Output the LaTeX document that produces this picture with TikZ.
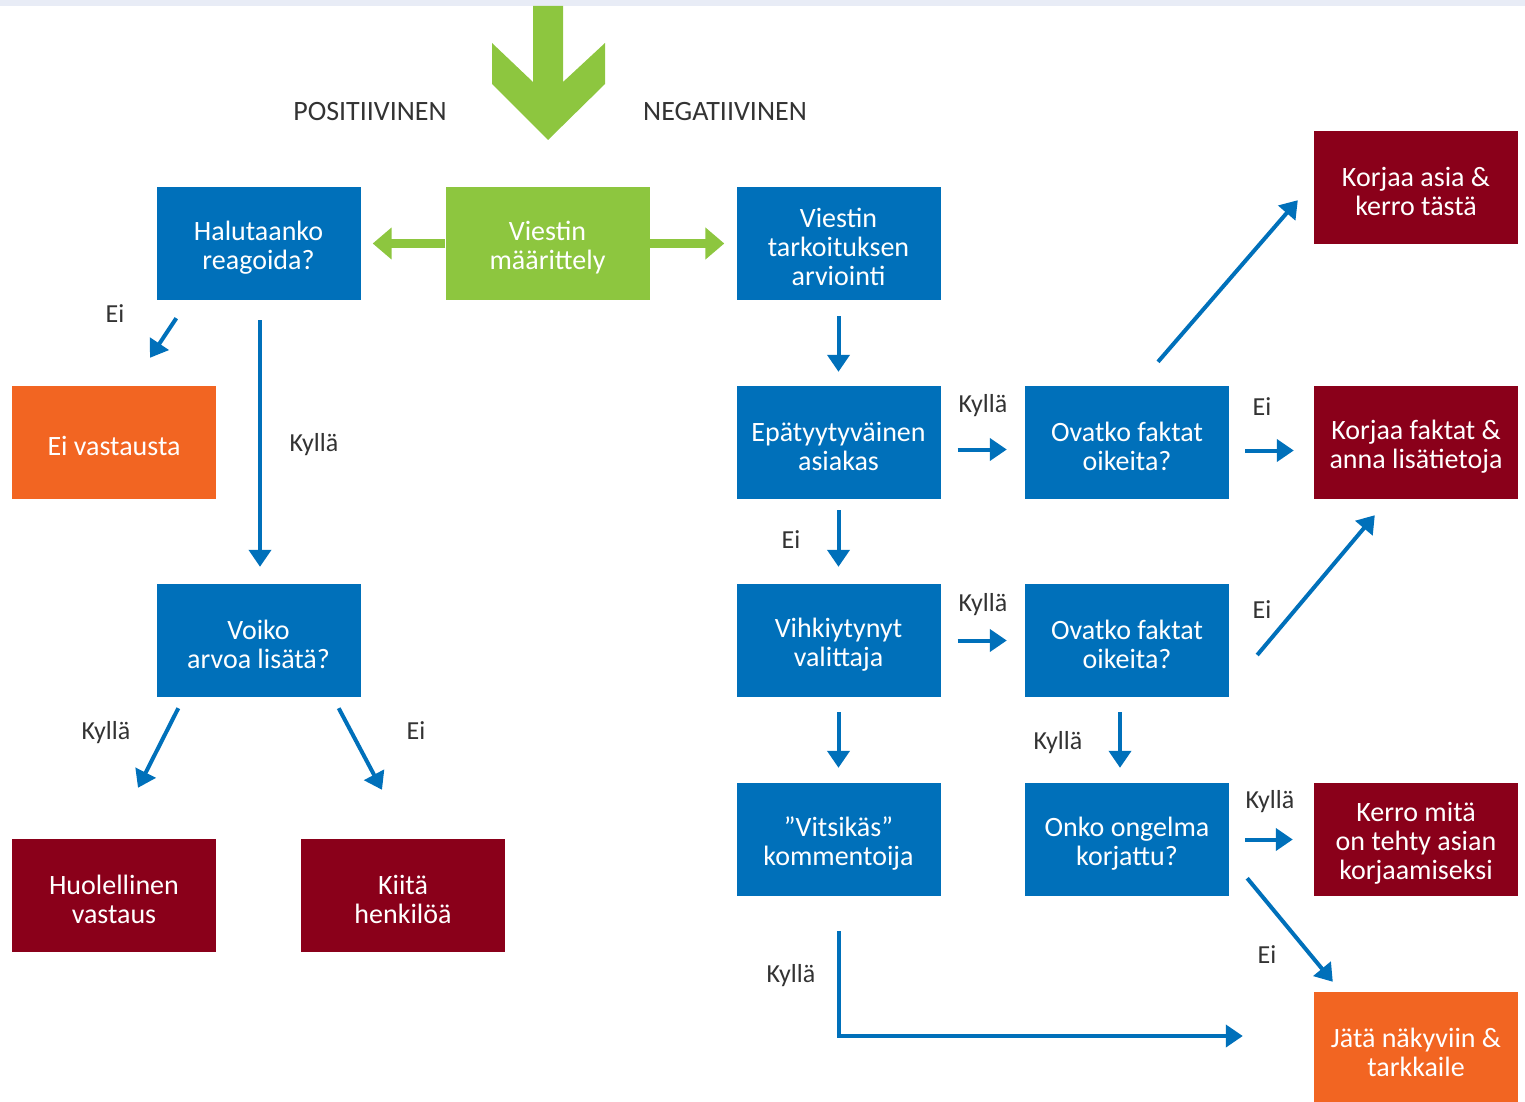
\documentclass[tikz,border=0pt]{standalone}
\usepackage{fontspec}
\setmainfont{Carlito}
\usepackage{tikz}
\usetikzlibrary{arrows.meta}
\definecolor{boxblue}{RGB}{0,112,186}
\definecolor{boxgreen}{RGB}{141,198,63}
\definecolor{boxred}{RGB}{138,0,26}
\definecolor{boxorange}{RGB}{242,101,34}
\definecolor{labelgray}{RGB}{51,51,51}
\definecolor{bandgray}{RGB}{232,236,246}

\begin{document}
\begin{tikzpicture}[x=1pt,y=-1pt,
    box/.style={minimum width=204pt,minimum height=113pt,inner sep=0pt,
      text width=200pt,align=flush center,text=white,font=\fontsize{28}{29}\selectfont,
      execute at begin node={\rule{0pt}{27pt}}},
    bluebox/.style={box,fill=boxblue},
    greenbox/.style={box,fill=boxgreen},
    redbox/.style={box,fill=boxred},
    orangebox/.style={box,fill=boxorange},
    arr/.style={draw=boxblue,line width=4pt,-{Triangle[length=17pt,width=22pt]}},
    garr/.style={draw=boxgreen,line width=9pt,-{Triangle[length=19pt,width=31pt]}},
    lbl/.style={text=labelgray,inner sep=0pt,font=\fontsize{26}{28}\selectfont},
    head/.style={text=labelgray,inner sep=0pt,font=\fontsize{28}{30}\selectfont}]
    \useasboundingbox (0,0) rectangle (1525,1102);
    \fill[bandgray] (0,0) rectangle (1525,6);

    %% Top arrow
    \fill[boxgreen] (533,6) -- (533,82) -- (492,43) -- (492,84) -- (548,140)
      -- (605,84) -- (605,43) -- (563,82) -- (563,6) -- cycle;
    \node[head] (pos) at (370,112) {POSITIIVINEN};
    \node[head] (neg) at (725,112) {NEGATIIVINEN};

    %% Boxes
    \node[greenbox] (viest) at (547.5,243.5) {Viestin\\määrittely};
    \node[bluebox] (halu) at (258.5,243.5) {Halutaanko\\reagoida?};
    \node[bluebox] (tark) at (838.5,243.5) {Viestin\\tarkoituksen\\arviointi};
    \node[redbox] (kasia) at (1416,187.5) {Korjaa asia \&\\kerro tästä};
    \node[orangebox] (eiva) at (114,442.5) {Ei vastausta};
    \node[bluebox] (epa) at (838.5,442.5) {Epätyytyväinen\\asiakas};
    \node[bluebox] (ovat1) at (1127,442.5) {Ovatko faktat\\oikeita?};
    \node[redbox] (korf) at (1416,442.5) {Korjaa faktat \&\\anna lisätietoja};
    \node[bluebox] (voik) at (258.5,640.5) {Voiko\\arvoa lisätä?};
    \node[bluebox] (vihk) at (838.5,640.5) {Vihkiytynyt\\valittaja};
    \node[bluebox] (ovat2) at (1127,640.5) {Ovatko faktat\\oikeita?};
    \node[redbox] (huol) at (114,895.5) {Huolellinen\\vastaus};
    \node[redbox] (kiit) at (403,895.5) {Kiitä\\henkilöä};
    \node[bluebox] (vits) at (838.5,839.5) {”Vitsikäs”\\kommentoija};
    \node[bluebox] (onko) at (1127,839.5) {Onko ongelma\\korjattu?};
    \node[redbox] (kerro) at (1416,839.5) {Kerro mitä\\on tehty asian\\korjaamiseksi};
    \node[orangebox] (jata) at (1416,1048.5) {Jätä näkyviin \&\\tarkkaile};

    %% Green arrows
    \draw[garr,shorten >=12pt] (viest.west) -- (halu.east);
    \draw[garr,shorten >=12pt] (viest.east) -- (tark.west);

    %% Positive side
    \draw[arr] ([xshift=20pt,yshift=-18pt]halu.south west) -- ([xshift=36pt,yshift=28pt]eiva.north);
    \draw[arr] ([xshift=1.5pt,yshift=-20pt]halu.south) -- ([xshift=1.5pt,yshift=17pt]voik.north);
    \draw[arr] ([xshift=22pt,yshift=-11pt]voik.south west) -- ([xshift=24pt,yshift=51pt]huol.north);
    \draw[arr] ([xshift=-22pt,yshift=-11pt]voik.south east) -- ([xshift=-21pt,yshift=49pt]kiit.north);

    %% Negative side
    \draw[arr,shorten <=16pt,shorten >=14pt] (tark.south) -- (epa.north);
    \draw[arr,shorten <=11pt,shorten >=17pt] (epa.south) -- (vihk.north);
    \draw[arr,shorten <=17pt,shorten >=18pt] ([yshift=-7pt]epa.east) -- ([yshift=-7pt]ovat1.west);
    \draw[arr,shorten <=16pt,shorten >=20pt] ([yshift=-8pt]ovat1.east) -- ([yshift=-8pt]korf.west);
    \draw[arr] ([xshift=31pt,yshift=24pt]ovat1.north) -- ([xshift=-16pt,yshift=44pt]kasia.south west);
    \draw[arr,shorten <=17pt,shorten >=18pt] (vihk.east) -- (ovat2.west);
    \draw[arr] ([xshift=28pt,yshift=-14.5pt]ovat2.east) -- ([xshift=61pt,yshift=-16pt]korf.south west);
    \draw[arr,shorten <=15pt,shorten >=15pt] (vihk.south) -- (vits.north);
    \draw[arr,shorten <=15pt,shorten >=15pt] ([xshift=-7pt]ovat2.south) -- ([xshift=-7pt]onko.north);
    \draw[arr,shorten <=16pt,shorten >=21pt] (onko.east) -- (kerro.west);
    \draw[arr] ([xshift=18pt,yshift=18pt]onko.south east) -- ([xshift=19pt,yshift=10pt]jata.north west);
    \draw[arr] ([yshift=-35pt]vits.south) |- ([xshift=-71pt,yshift=12.5pt]jata.west);

    %% Labels
    \node[lbl] (l1) at (115,314) {Ei};
    \node[lbl] (l2) at (314,445) {Kyllä};
    \node[lbl] (l3) at (106,733) {Kyllä};
    \node[lbl] (l4) at (416,731) {Ei};
    \node[lbl] (l5) at (791,540) {Ei};
    \node[lbl] (l6) at (983,406) {Kyllä};
    \node[lbl] (l7) at (1262,407) {Ei};
    \node[lbl] (l8) at (983,605) {Kyllä};
    \node[lbl] (l9) at (1262,610) {Ei};
    \node[lbl] (l10) at (1058,743) {Kyllä};
    \node[lbl] (l11) at (1270,802) {Kyllä};
    \node[lbl] (l12) at (1267,955) {Ei};
    \node[lbl] (l13) at (791,976) {Kyllä};
\end{tikzpicture}
\end{document}
